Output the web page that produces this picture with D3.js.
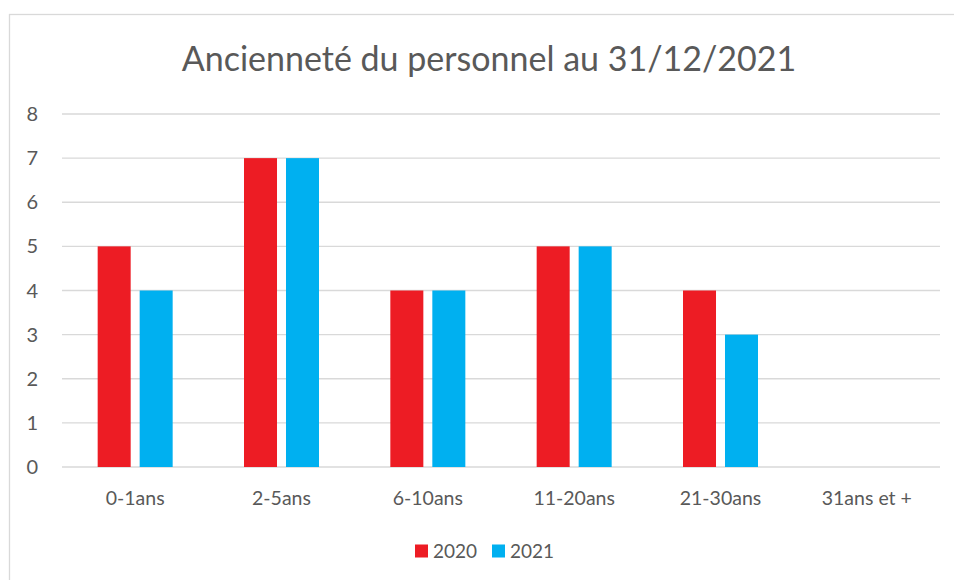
<!DOCTYPE html>
<html>
<head>
<meta charset="utf-8">
<script src="https://cdn.jsdelivr.net/npm/d3@7"></script>
<style>
  body { margin: 0; background: #fff; }
  text { font-family: Lato, "Open Sans", sans-serif; fill: #595959; }
</style>
</head>
<body>
<div id="chart"></div>
<script>
var categories = ["0-1ans", "2-5ans", "6-10ans", "11-20ans", "21-30ans", "31ans et +"];
var series = ["2020", "2021"];
var values2020 = [5, 7, 4, 5, 4, 0];
var values2021 = [4, 7, 4, 5, 3, 0];
var yTicks = [0, 1, 2, 3, 4, 5, 6, 7, 8];
var colors = { "2020": "#ED1C24", "2021": "#00B0F0" };
var title = "Ancienneté du personnel au 31/12/2021";

var width = 954, height = 580;
var plot = { left: 62, right: 940, top: 114, bottom: 467 };

var svg = d3.select("#chart").append("svg")
    .attr("width", width)
    .attr("height", height);

// chart frame (right and bottom edges fall outside the picture)
svg.append("rect")
  .attr("x", 9.5).attr("y", 14.5)
  .attr("width", 1000).attr("height", 600)
  .attr("fill", "none")
  .attr("stroke", "#d9d9d9")
  .attr("stroke-width", 1.3);

svg.append("text")
  .attr("x", 489).attr("y", 71)
  .attr("text-anchor", "middle")
  .attr("font-size", 34)
  .text(title);

var x = d3.scaleBand()
    .domain(categories)
    .range([plot.left, plot.right])
    .paddingInner(0.4875)
    .paddingOuter(0.24375);

var x1 = d3.scaleBand()
    .domain(series)
    .range([0, x.bandwidth()])
    .paddingInner(0.214);

var y = d3.scaleLinear()
    .domain([0, 8])
    .range([plot.bottom, plot.top]);

// gridlines
svg.append("g")
  .selectAll("line")
  .data(yTicks)
  .enter().append("line")
  .attr("x1", plot.left).attr("x2", plot.right)
  .attr("y1", d => y(d)).attr("y2", d => y(d))
  .attr("stroke", "#d9d9d9")
  .attr("stroke-width", 1.4);

// y labels
svg.append("g")
  .selectAll("text")
  .data(yTicks)
  .enter().append("text")
  .attr("x", 38)
  .attr("y", d => y(d))
  .attr("dy", "0.35em")
  .attr("text-anchor", "end")
  .attr("font-size", 20)
  .text(d => d);

var data = categories.map((c, i) => ({ cat: c, vals: [
  { key: "2020", v: values2020[i] },
  { key: "2021", v: values2021[i] }
]}));

var groups = svg.append("g")
  .selectAll("g")
  .data(data)
  .enter().append("g")
  .attr("transform", d => "translate(" + x(d.cat) + ",0)");

groups.selectAll("rect")
  .data(d => d.vals.filter(s => s.v > 0))
  .enter().append("rect")
  .attr("x", d => x1(d.key))
  .attr("width", x1.bandwidth())
  .attr("y", d => y(d.v))
  .attr("height", d => y(0) - y(d.v))
  .attr("fill", d => colors[d.key]);

// x labels
svg.append("g")
  .selectAll("text")
  .data(categories)
  .enter().append("text")
  .attr("x", d => x(d) + x.bandwidth() / 2)
  .attr("y", 498)
  .attr("dy", "0.35em")
  .attr("text-anchor", "middle")
  .attr("font-size", 19.5)
  .text(d => d);

// legend
var legend = svg.append("g").attr("transform", "translate(415,551)");
var lx = 0;
series.forEach(function (s) {
  legend.append("rect")
    .attr("x", lx).attr("y", -6.5)
    .attr("width", 13).attr("height", 13)
    .attr("fill", colors[s]);
  legend.append("text")
    .attr("x", lx + 18).attr("y", 0)
    .attr("dy", "0.35em")
    .attr("font-size", 19)
    .text(s);
  lx += 77;
});
</script>
</body>
</html>
